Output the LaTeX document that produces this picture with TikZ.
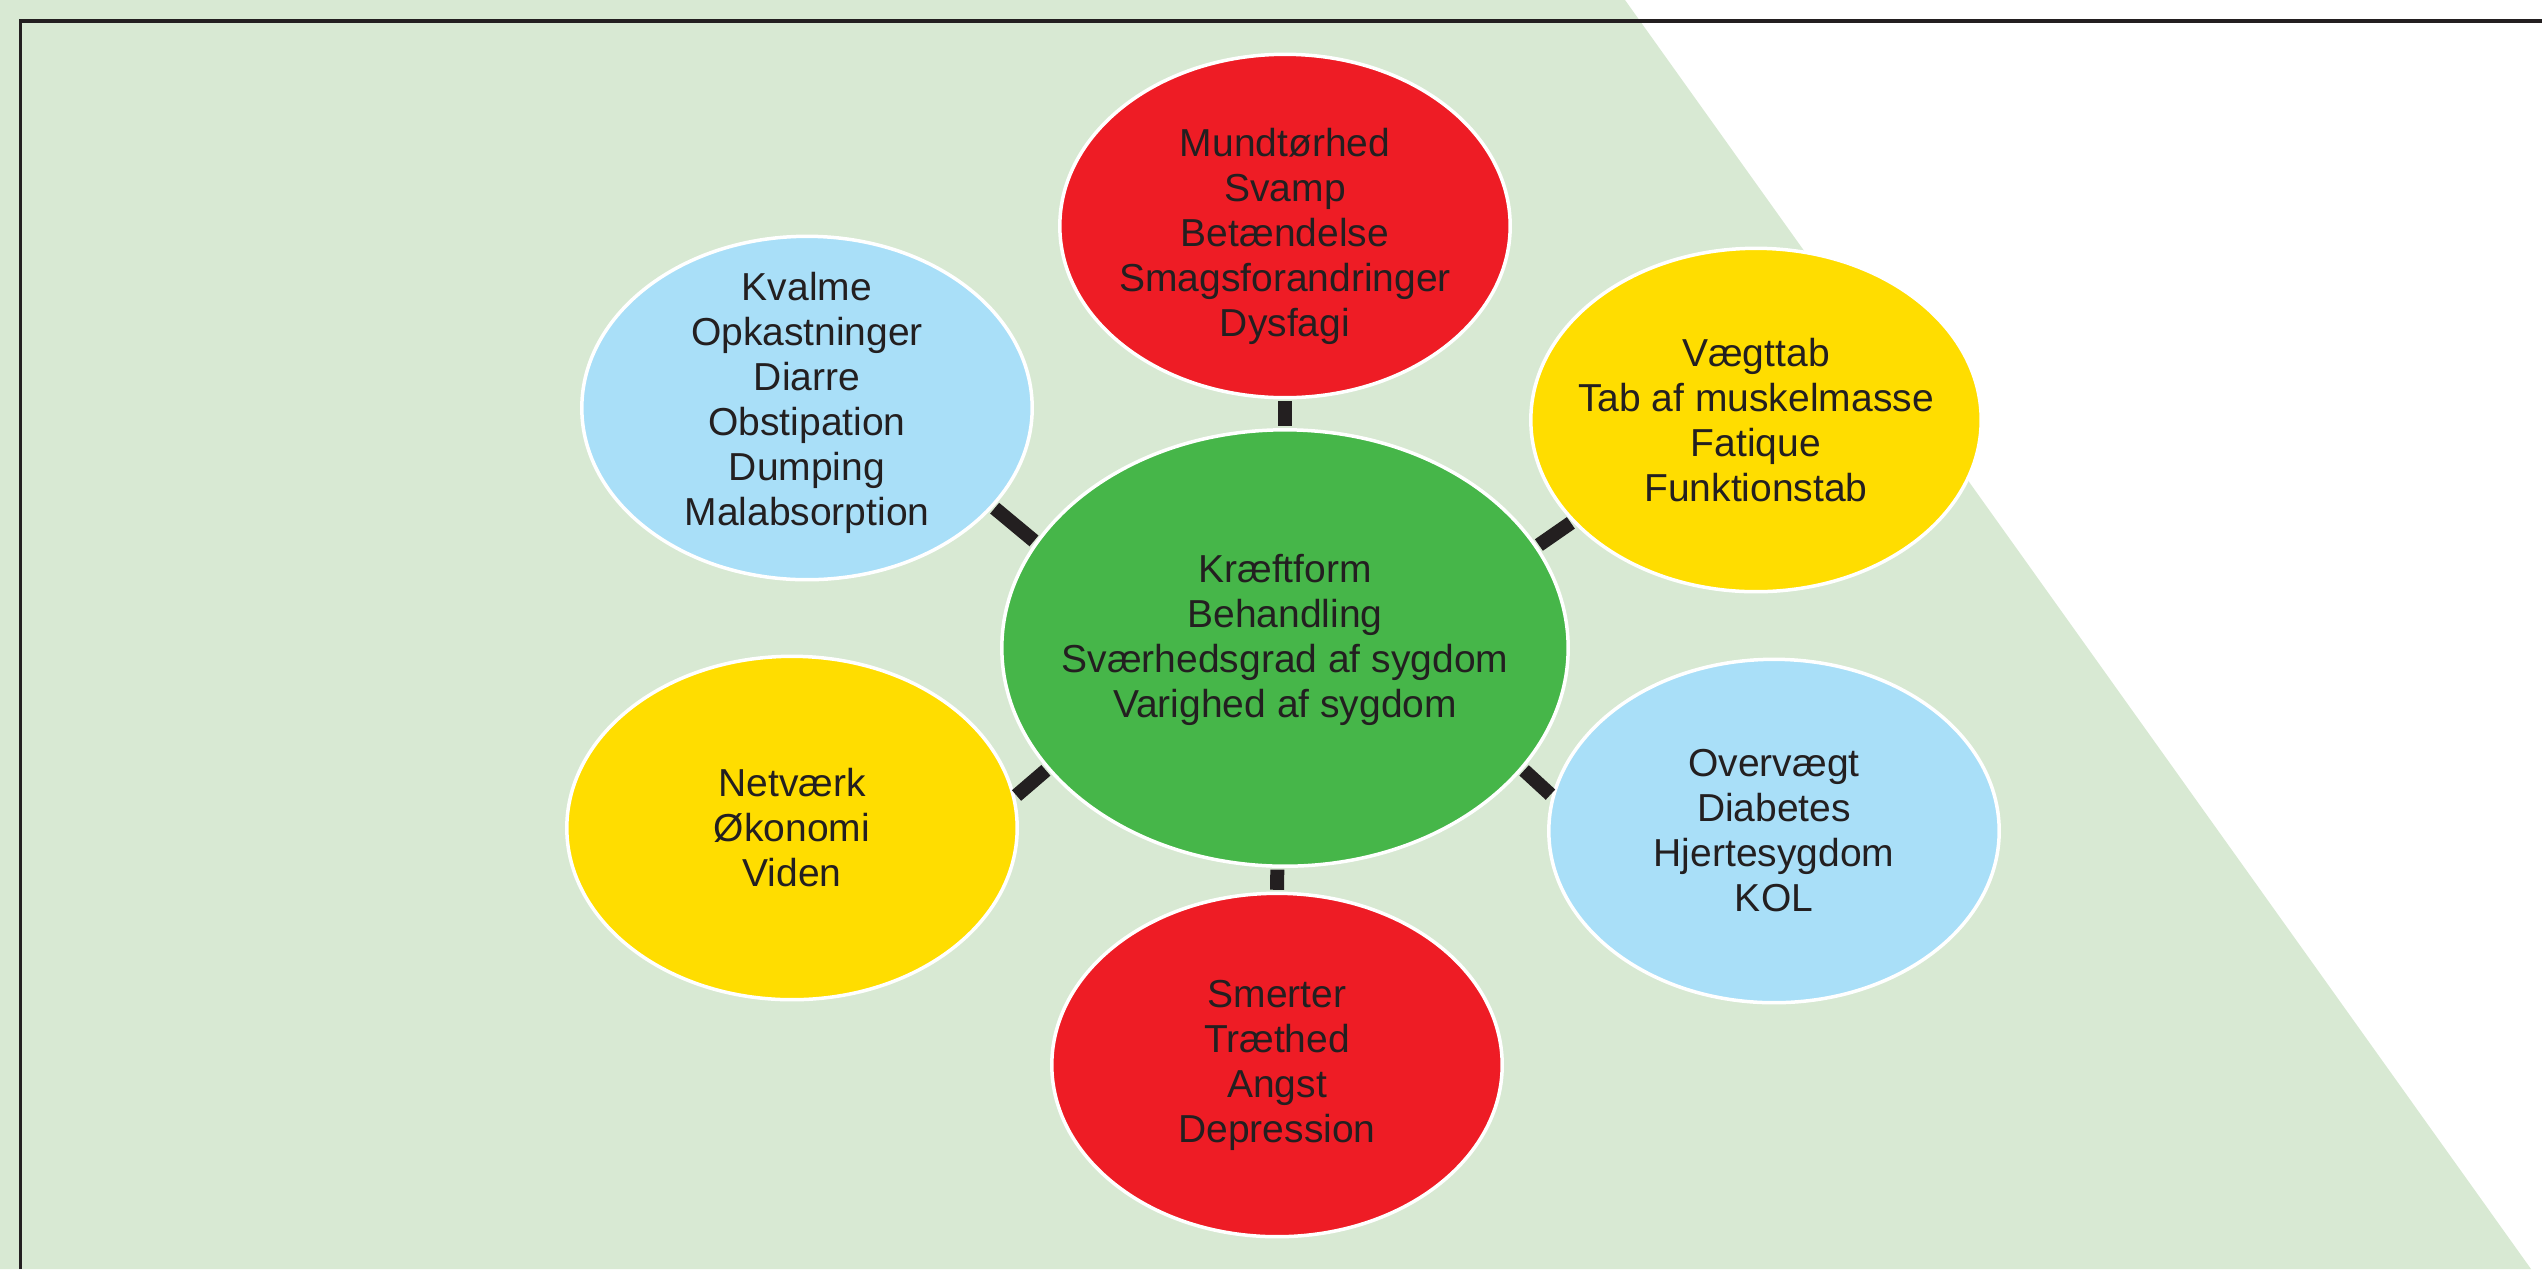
\documentclass[tikz,border=0pt]{standalone}
\usepackage{fontspec}
\setmainfont{Liberation Sans}
\usetikzlibrary{shapes.geometric}

\definecolor{bggreen}{HTML}{D8E9D3}
\definecolor{fgred}{HTML}{EE1C25}
\definecolor{fgblue}{HTML}{A9DFF8}
\definecolor{fgyellow}{HTML}{FFDD00}
\definecolor{fggreen}{HTML}{46B649}
\definecolor{ink}{HTML}{231F20}

\tikzset{
  blob/.style={ellipse,draw=white,line width=0.07cm,inner sep=0pt,
    minimum width=9.01cm,minimum height=6.87cm},
  txt/.style={align=center,text=ink,font=\fontsize{22.2}{25.6}\selectfont},
  bar/.style={draw=ink,line width=0.28cm,shorten <=0.035cm,shorten >=0.035cm}
}

\begin{document}
\begin{tikzpicture}[x=0.02cm,y=-0.02cm]
  \useasboundingbox (0,0) rectangle (2542,1269);
  % pale background and the frame
  \fill[bggreen] (0,0) -- (1625,0) -- (2531,1269) -- (0,1269) -- cycle;
  \draw[ink,line width=0.08cm] (20.5,1269) -- (20.5,20.5) -- (2542,20.5);

  % middle
  \node[blob,fill=fggreen,minimum width=11.33cm,minimum height=8.73cm] (ctr) at (1285,648) {};
  \node[txt,yshift=0.16cm] (ctr-t) at (ctr) {Kræftform\\Behandling\\Sværhedsgrad af sygdom\\Varighed af sygdom};

  % the six around it
  \node[blob,fill=fgred] (top) at (1285,226) {};
  \node[txt,yshift=-0.2cm] (top-t) at (top) {Mundtørhed\\Svamp\\Betændelse\\Smagsforandringer\\Dysfagi};
  \node[blob,fill=fgblue] (ul) at (807,408) {};
  \node[txt,yshift=0.1cm] (ul-t) at (ul) {Kvalme\\Opkastninger\\Diarre\\Obstipation\\Dumping\\Malabsorption};
  \node[blob,fill=fgyellow] (ur) at (1756,420) {};
  \node[txt] (ur-t) at (ur) {Vægttab\\Tab af muskelmasse\\Fatique\\Funktionstab};
  \node[blob,fill=fgyellow] (ll) at (792,828) {};
  \node[txt] (ll-t) at (ll) {Netværk\\Økonomi\\Viden};
  \node[blob,fill=fgblue] (lr) at (1774,831) {};
  \node[txt] (lr-t) at (lr) {Overvægt\\Diabetes\\Hjertesygdom\\KOL};
  \node[blob,fill=fgred] (bot) at (1277,1065) {};
  \node[txt] (bot-t) at (bot) {Smerter\\Træthed\\Angst\\Depression};

  % links
  \path[bar] (top.-90) -- (ctr.90);
  \path[bar] (ul.-28) -- (ctr.157);
  \path[bar] (ctr.22) -- (ur.-151);
  \path[bar] (ll.8) -- (ctr.207);
  \path[bar] (ctr.-27) -- (lr.171);
  \path[bar] (ctr.268) -- (bot.90);
\end{tikzpicture}
\end{document}
